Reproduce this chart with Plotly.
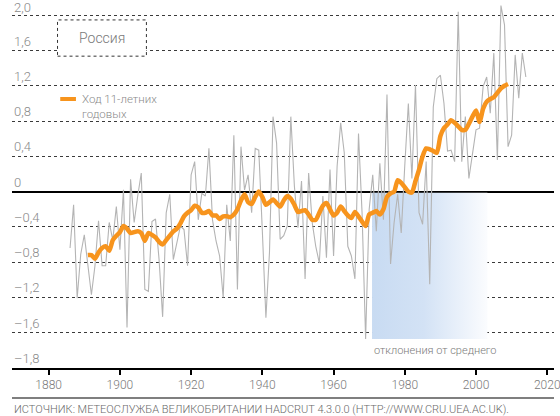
import plotly.graph_objects as go

# annual anomalies, Russia (HadCRUT 4.3.0.0), deg C
YEARS = list(range(1886, 2015))
ANNUAL = [
    -0.64, -0.15, -1.21, -0.71, -0.49, -0.80, -1.17, -0.84, -0.33, -0.84,  # 1886-1895
    -0.84, -0.35, -0.55, -0.17, -0.66, 0.02, -1.54, 0.14, -0.35, -0.05,    # 1896-1905
    0.21, -1.11, -1.13, -0.34, -0.31, -0.77, -1.42, -0.24, -0.03, -0.77,   # 1906-1915
    -0.58, -0.39, -0.43, -0.84, 0.19, 0.34, -0.32, -0.02, -0.05, 0.49,     # 1916-1925
    -0.32, -0.56, -0.73, -1.20, -0.15, -0.56, 0.64, -1.11, 0.51, 0.02,     # 1926-1935
    0.19, -0.24, 0.49, 0.47, -0.45, -1.43, -0.69, 0.85, 0.55, -0.54,       # 1936-1945
    -0.50, -0.39, 0.85, 0.06, -0.41, 0.12, -0.99, 0.21, -0.35, -0.62,      # 1946-1955
    -0.81, -0.05, -0.75, 0.25, -0.73, 0.29, 0.78, 0.44, -0.62, -0.73,      # 1956-1965
    -0.99, 0.66, -0.24, -1.67, -0.20, 0.19, -0.45, 0.32, -0.32, 1.10,      # 1966-1975
    -0.82, -0.35, -0.03, -0.47, 0.30, 1.00, 0.15, 1.21, -0.24, -0.37,      # 1976-1985
    0.34, -1.05, 0.96, 1.28, 1.32, 1.00, 0.46, 0.47, 0.34, 2.04,           # 1986-1995
    0.34, 0.85, 0.15, 0.45, 0.70, 0.72, 1.19, 1.30, 0.89, 1.57,            # 1996-2005
    0.36, 2.11, 1.89, 0.51, 0.64, 1.55, 1.06, 1.57, 1.30,                  # 2006-2014
]

# 11-year running mean
SMOOTH_YEARS = list(range(1891, 2010))
SMOOTH = [
    -0.72, -0.72, -0.76, -0.69, -0.64, -0.62, -0.67, -0.55, -0.50, -0.46,  # 1891-1900
    -0.39, -0.42, -0.47, -0.46, -0.45, -0.47, -0.56, -0.47, -0.49, -0.52,  # 1901-1910
    -0.57, -0.60, -0.55, -0.50, -0.45, -0.42, -0.36, -0.28, -0.24, -0.21,  # 1911-1920
    -0.16, -0.18, -0.24, -0.24, -0.22, -0.27, -0.27, -0.31, -0.28, -0.28,  # 1921-1930
    -0.29, -0.26, -0.20, -0.10, -0.03, -0.12, -0.14, -0.06, 0.00, -0.06,   # 1931-1940
    -0.15, -0.12, -0.09, -0.13, -0.17, -0.10, -0.05, -0.08, -0.15, -0.23,  # 1941-1950
    -0.22, -0.21, -0.26, -0.32, -0.32, -0.24, -0.16, -0.13, -0.20, -0.27,  # 1951-1960
    -0.24, -0.17, -0.22, -0.27, -0.30, -0.23, -0.28, -0.34, -0.39, -0.26,  # 1961-1970
    -0.24, -0.22, -0.26, -0.20, -0.06, -0.02, 0.00, 0.13, 0.10, 0.05,      # 1971-1980
    0.00, -0.01, 0.12, 0.25, 0.40, 0.49, 0.48, 0.46, 0.44, 0.63,           # 1981-1990
    0.72, 0.76, 0.81, 0.78, 0.74, 0.70, 0.70, 0.77, 0.85, 0.92,            # 1991-2000
    0.79, 0.94, 1.02, 1.05, 1.07, 1.12, 1.17, 1.20, 1.22,                  # 2001-2009
]

YTICKS = [2.0, 1.6, 1.2, 0.8, 0.4, 0.0, -0.4, -0.8, -1.2, -1.6, -2.0]
YLABELS = ['2,0', '1,6', '1,2', '0,8', '0,4', '0', '–0,4', '–0,8', '–1,2', '–1,6', '–1,8']
XTICKS = [1880, 1900, 1920, 1940, 1960, 1980, 2000, 2020]

# shaded "deviation" band
BAND_X = (1970.8, 2003.2)
BAND_Y = (-1.67, -0.012)

FONT = 'Roboto'
GREY = '#8a8a8a'
ORANGE = '#f7941d'

fig = go.Figure()

fig.add_trace(go.Scatter(
    x=[BAND_X[0], BAND_X[1], BAND_X[1], BAND_X[0], BAND_X[0]],
    y=[BAND_Y[1], BAND_Y[1], BAND_Y[0], BAND_Y[0], BAND_Y[1]],
    mode='none', fill='toself',
    fillgradient=dict(type='horizontal',
                      colorscale=[[0, '#c8dbf2'], [0.45, '#d3e2f5'], [1, '#fbfcfe']]),
    hoverinfo='skip', showlegend=False,
))
fig.add_trace(go.Scatter(
    x=YEARS, y=ANNUAL, mode='lines',
    line=dict(color='#b4b4b4', width=1.1),
    showlegend=False,
))
fig.add_trace(go.Scatter(
    x=SMOOTH_YEARS, y=SMOOTH, mode='lines',
    line=dict(color=ORANGE, width=4.5, shape='spline', smoothing=0.6),
    showlegend=False,
))

fig.update_layout(
    width=560, height=416,
    margin=dict(l=12, r=0, t=2, b=48),
    plot_bgcolor='white', paper_bgcolor='white',
    font=dict(family=FONT, color=GREY, size=12),
    showlegend=False,
)
fig.update_xaxes(
    range=[1869.7, 2021.9],
    tickvals=XTICKS, ticks='outside', ticklen=5, tickcolor='black', tickwidth=1.5,
    tickfont=dict(size=12, color='#7a7a7a', family=FONT, weight=300),
    ticklabeloverflow='allow',
    showline=True, linecolor='black', linewidth=1.5,
    showgrid=False, zeroline=False,
)
fig.update_yaxes(
    range=[-2.0, 2.15],
    tickvals=YTICKS[:-1], showticklabels=False,
    showgrid=True, gridcolor='#3a3a3a', gridwidth=1, griddash='dot',
    zeroline=True, zerolinecolor='black', zerolinewidth=2,
)

for v, lab in zip(YTICKS, YLABELS):
    fig.add_annotation(
        xref='paper', x=0, xanchor='left', y=v, yanchor='bottom',
        yshift=-2 if v == YTICKS[0] else 0,
        text=lab, showarrow=False,
        font=dict(size=13, color='#8a8a8a', family=FONT, weight=300),
    )

# "Россия" box (paper coords, plot area spans y 2..368 px)
fig.add_shape(type='rect', xref='paper', yref='paper',
              x0=0.084, x1=0.248, y0=0.852, y1=0.951,
              fillcolor='white', line=dict(color='#333', width=1, dash='dot'))
fig.add_annotation(xref='paper', yref='paper', x=0.166, y=0.901,
                   xanchor='center', yanchor='middle',
                   text='Россия', showarrow=False,
                   font=dict(size=14, color='#7a7a7a', family=FONT, weight=300))

# legend
fig.add_shape(type='line', xref='paper', yref='paper',
              x0=0.089, x1=0.118, y0=0.735, y1=0.735,
              line=dict(color=ORANGE, width=4))
fig.add_annotation(xref='paper', yref='paper', x=0.126, y=0.759, xanchor='left', yanchor='top',
                   text='Ход 11-летних<br>годовых', showarrow=False, align='left',
                   font=dict(size=11.5, color='#8a8a8a', family=FONT, weight=300))

fig.add_annotation(x=BAND_X[0], y=BAND_Y[0], xanchor='left', yanchor='top', yshift=-3,
                   text='отклонения от среднего', showarrow=False,
                   font=dict(size=11, color='#7a7a7a', family=FONT, weight=300))

# bottom rule and source
fig.add_shape(type='line', xref='paper', yref='paper', x0=0, x1=1, y0=-0.082, y1=-0.082,
              line=dict(color='black', width=1.2))
fig.add_annotation(xref='paper', yref='paper', x=0, y=-0.089, xanchor='left', yanchor='top',
                   text='ИСТОЧНИК: МЕТЕОСЛУЖБА ВЕЛИКОБРИТАНИИ HADCRUT 4.3.0.0 (HTTP://WWW.CRU.UEA.AC.UK).',
                   showarrow=False,
                   font=dict(size=11, color='#6a6a6a', family=FONT, weight=300))

assert len(ANNUAL) == len(YEARS) and len(SMOOTH) == len(SMOOTH_YEARS)

fig.write_html('out.html', config={'displayModeBar': False},
               post_script="document.body.style.margin='0';")
